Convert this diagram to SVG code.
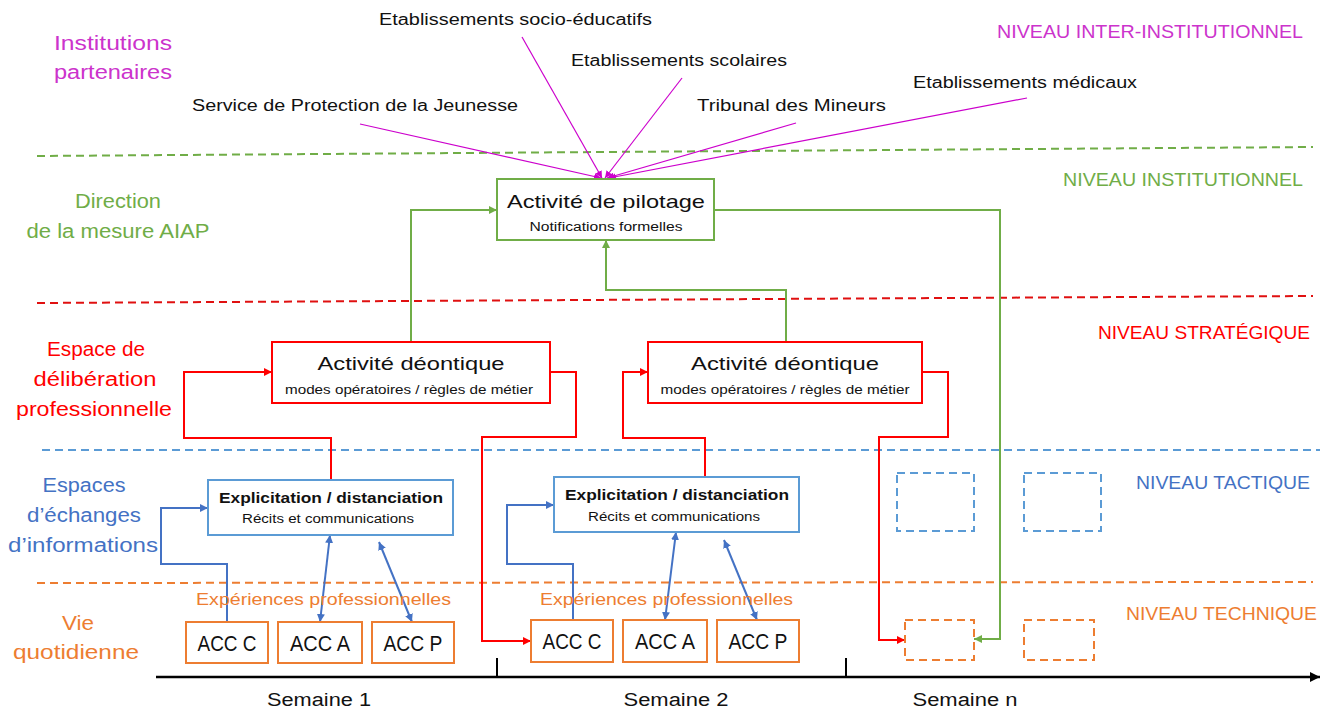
<svg xmlns="http://www.w3.org/2000/svg" width="1333" height="711" viewBox="0 0 1333 711">
<style>
text{font-family:"Liberation Sans",Arial,sans-serif;}
.lbl{font-size:20px;text-anchor:middle;}
.niv{font-size:19px;}
.top{font-size:16px;fill:#111;}
.box{fill:#fff;stroke-width:2;}
.t1{font-size:19px;fill:#111;text-anchor:middle;}
.t2{font-size:12.5px;fill:#111;text-anchor:middle;}
.tb{font-size:15px;font-weight:bold;fill:#111;text-anchor:middle;}
.acc{font-size:22px;fill:#111;text-anchor:middle;}
.exp{font-size:17px;fill:#ED7D31;}
.sem{font-size:18px;fill:#111;text-anchor:middle;}
.dash{fill:none;stroke-width:2;stroke-dasharray:8 5;}
.c{fill:none;stroke-width:2;}
.m{fill:none;stroke:#CC00CC;stroke-width:1.2;}
</style>
<defs>
<marker id="ag" viewBox="0 0 10 10" refX="10" refY="5" markerWidth="8" markerHeight="8" markerUnits="userSpaceOnUse" orient="auto-start-reverse"><path d="M0,0 L10,5 L0,10 z" fill="#70AD47"/></marker>
<marker id="ar" viewBox="0 0 10 10" refX="10" refY="5" markerWidth="8" markerHeight="8" markerUnits="userSpaceOnUse" orient="auto-start-reverse"><path d="M0,0 L10,5 L0,10 z" fill="#FF0000"/></marker>
<marker id="ab" viewBox="0 0 10 10" refX="10" refY="5" markerWidth="8" markerHeight="8" markerUnits="userSpaceOnUse" orient="auto-start-reverse"><path d="M0,0 L10,5 L0,10 z" fill="#4472C4"/></marker>
<marker id="am" viewBox="0 0 10 10" refX="10" refY="5" markerWidth="7" markerHeight="7" markerUnits="userSpaceOnUse" orient="auto-start-reverse"><path d="M0,0 L10,5 L0,10 z" fill="#CC00CC"/></marker>
<marker id="ak" viewBox="0 0 10 10" refX="10" refY="5" markerWidth="10" markerHeight="10" markerUnits="userSpaceOnUse" orient="auto"><path d="M0,0 L10,5 L0,10 z" fill="#000"/></marker>
</defs>
<rect width="1333" height="711" fill="#fff"/>

<g id="level-lines">
<line class="dash" x1="37" y1="156" x2="1313" y2="147" stroke="#70AD47"/>
<line class="dash" x1="37" y1="303" x2="1313" y2="296" stroke="#E01010"/>
<line class="dash" x1="42" y1="450" x2="1320" y2="450" stroke="#5B9BD5"/>
<line class="dash" x1="37" y1="583" x2="1313" y2="582" stroke="#ED7D31"/>
</g>

<g id="left-labels">
<text class="lbl" fill="#CC33CC" x="113" y="50" textLength="118" lengthAdjust="spacingAndGlyphs">Institutions</text>
<text class="lbl" fill="#CC33CC" x="113" y="79" textLength="118" lengthAdjust="spacingAndGlyphs">partenaires</text>
<text class="lbl" fill="#70AD47" x="118" y="208" textLength="86" lengthAdjust="spacingAndGlyphs">Direction</text>
<text class="lbl" fill="#70AD47" x="118" y="238" textLength="183" lengthAdjust="spacingAndGlyphs">de la mesure AIAP</text>
<text class="lbl" fill="#FF0000" x="96" y="356" textLength="98" lengthAdjust="spacingAndGlyphs">Espace de</text>
<text class="lbl" fill="#FF0000" x="95" y="386" textLength="123" lengthAdjust="spacingAndGlyphs">délibération</text>
<text class="lbl" fill="#FF0000" x="94" y="416" textLength="156" lengthAdjust="spacingAndGlyphs">professionnelle</text>
<text class="lbl" fill="#4472C4" x="84" y="492" textLength="83" lengthAdjust="spacingAndGlyphs">Espaces</text>
<text class="lbl" fill="#4472C4" x="84" y="522" textLength="114" lengthAdjust="spacingAndGlyphs">d’échanges</text>
<text class="lbl" fill="#4472C4" x="83" y="552" textLength="150" lengthAdjust="spacingAndGlyphs">d’informations</text>
<text class="lbl" fill="#ED7D31" x="78" y="630" textLength="32" lengthAdjust="spacingAndGlyphs">Vie</text>
<text class="lbl" fill="#ED7D31" x="76" y="659" textLength="126" lengthAdjust="spacingAndGlyphs">quotidienne</text>
</g>

<g id="right-labels">
<text class="niv" fill="#CC33CC" x="997" y="38" textLength="306" lengthAdjust="spacingAndGlyphs">NIVEAU INTER-INSTITUTIONNEL</text>
<text class="niv" fill="#70AD47" x="1063" y="186" textLength="240" lengthAdjust="spacingAndGlyphs">NIVEAU INSTITUTIONNEL</text>
<text class="niv" fill="#FF0000" x="1098" y="339" textLength="212" lengthAdjust="spacingAndGlyphs">NIVEAU STRATÉGIQUE</text>
<text class="niv" fill="#4472C4" x="1136" y="489" textLength="174" lengthAdjust="spacingAndGlyphs">NIVEAU TACTIQUE</text>
<text class="niv" fill="#ED7D31" x="1126" y="620" textLength="191" lengthAdjust="spacingAndGlyphs">NIVEAU TECHNIQUE</text>
</g>

<g id="partner-labels">
<text class="top" x="379" y="25" textLength="273" lengthAdjust="spacingAndGlyphs">Etablissements socio-éducatifs</text>
<text class="top" x="571" y="66" textLength="216" lengthAdjust="spacingAndGlyphs">Etablissements scolaires</text>
<text class="top" x="192" y="111" textLength="326" lengthAdjust="spacingAndGlyphs">Service de Protection de la Jeunesse</text>
<text class="top" x="697" y="111" textLength="189" lengthAdjust="spacingAndGlyphs">Tribunal des Mineurs</text>
<text class="top" x="913" y="88" textLength="224" lengthAdjust="spacingAndGlyphs">Etablissements médicaux</text>
</g>

<g id="connectors">
<!-- magenta -->
<line class="m" x1="360" y1="124" x2="601" y2="178" marker-end="url(#am)"/>
<line class="m" x1="522" y1="37" x2="602" y2="178" marker-end="url(#am)"/>
<line class="m" x1="682" y1="78" x2="605" y2="178" marker-end="url(#am)"/>
<line class="m" x1="796" y1="123" x2="607" y2="178" marker-end="url(#am)"/>
<line class="m" x1="1027" y1="98" x2="609" y2="178" marker-end="url(#am)"/>
<!-- green -->
<polyline class="c" stroke="#70AD47" points="411,342 411,210 497,210" marker-end="url(#ag)"/>
<polyline class="c" stroke="#70AD47" points="786,342 786,290 606,290 606,240" marker-end="url(#ag)"/>
<polyline class="c" stroke="#70AD47" points="714,210 1000,210 1000,639 974,639" marker-end="url(#ag)"/>
<!-- red -->
<polyline class="c" stroke="#FF0000" points="331,480 331,438 184,438 184,372 272,372" marker-end="url(#ar)"/>
<polyline class="c" stroke="#FF0000" points="550,372 576,372 576,437 482,437 482,641 531,641" marker-end="url(#ar)"/>
<polyline class="c" stroke="#FF0000" points="705,477 705,438 623,438 623,372 648,372" marker-end="url(#ar)"/>
<polyline class="c" stroke="#FF0000" points="922,372 948,372 948,437 879,437 879,640 905,640" marker-end="url(#ar)"/>
<!-- blue -->
<polyline class="c" stroke="#4472C4" points="227,622 227,564 161,564 161,508 208,508" marker-end="url(#ab)"/>
<line class="c" stroke="#4472C4" x1="330" y1="535" x2="320" y2="622" marker-start="url(#ab)" marker-end="url(#ab)"/>
<line class="c" stroke="#4472C4" x1="379" y1="542" x2="412" y2="622" marker-start="url(#ab)" marker-end="url(#ab)"/>
<polyline class="c" stroke="#4472C4" points="573,620 573,564 507,564 507,505 554,505" marker-end="url(#ab)"/>
<line class="c" stroke="#4472C4" x1="676" y1="532" x2="665" y2="620" marker-start="url(#ab)" marker-end="url(#ab)"/>
<line class="c" stroke="#4472C4" x1="724" y1="540" x2="757" y2="620" marker-start="url(#ab)" marker-end="url(#ab)"/>
</g>

<g id="pilotage">
<rect class="box" x="497" y="179" width="217" height="61" stroke="#70AD47"/>
<text class="t1" x="606" y="208" textLength="198" lengthAdjust="spacingAndGlyphs">Activité de pilotage</text>
<text class="t2" x="606" y="231" textLength="153" lengthAdjust="spacingAndGlyphs">Notifications formelles</text>
</g>

<g id="deontique-1">
<rect class="box" x="272" y="342" width="278" height="61" stroke="#FF0000"/>
<text class="t1" x="411" y="370" textLength="187" lengthAdjust="spacingAndGlyphs">Activité déontique</text>
<text class="t2" x="409" y="394" textLength="248" lengthAdjust="spacingAndGlyphs">modes opératoires / règles de métier</text>
</g>
<g id="deontique-2">
<rect class="box" x="648" y="342" width="274" height="61" stroke="#FF0000"/>
<text class="t1" x="785" y="370" textLength="188" lengthAdjust="spacingAndGlyphs">Activité déontique</text>
<text class="t2" x="785" y="394" textLength="249" lengthAdjust="spacingAndGlyphs">modes opératoires / règles de métier</text>
</g>

<g id="explicitation-1">
<rect class="box" x="208" y="480" width="245" height="55" stroke="#5B9BD5"/>
<text class="tb" x="331" y="503" textLength="224" lengthAdjust="spacingAndGlyphs">Explicitation / distanciation</text>
<text class="t2" x="328" y="523" textLength="172" lengthAdjust="spacingAndGlyphs">Récits et communications</text>
</g>
<g id="explicitation-2">
<rect class="box" x="554" y="477" width="245" height="55" stroke="#5B9BD5"/>
<text class="tb" x="677" y="500" textLength="224" lengthAdjust="spacingAndGlyphs">Explicitation / distanciation</text>
<text class="t2" x="674" y="521" textLength="172" lengthAdjust="spacingAndGlyphs">Récits et communications</text>
</g>

<g id="tactique-empty">
<rect class="dash" x="897" y="473" width="77" height="58" stroke="#5B9BD5"/>
<rect class="dash" x="1024" y="473" width="77" height="58" stroke="#5B9BD5"/>
</g>

<g id="experiences">
<text class="exp" x="196" y="605" textLength="255" lengthAdjust="spacingAndGlyphs">Expériences  professionnelles</text>
<text class="exp" x="540" y="605" textLength="253" lengthAdjust="spacingAndGlyphs">Expériences  professionnelles</text>
</g>

<g id="acc-week1">
<rect class="box" x="186" y="622" width="82" height="41" stroke="#ED7D31"/>
<text class="acc" x="227" y="651" textLength="59" lengthAdjust="spacingAndGlyphs">ACC C</text>
<rect class="box" x="278" y="622" width="84" height="41" stroke="#ED7D31"/>
<text class="acc" x="320" y="651" textLength="60" lengthAdjust="spacingAndGlyphs">ACC A</text>
<rect class="box" x="372" y="622" width="82" height="41" stroke="#ED7D31"/>
<text class="acc" x="413" y="651" textLength="59" lengthAdjust="spacingAndGlyphs">ACC P</text>
</g>
<g id="acc-week2">
<rect class="box" x="531" y="620" width="82" height="42" stroke="#ED7D31"/>
<text class="acc" x="572" y="649" textLength="59" lengthAdjust="spacingAndGlyphs">ACC C</text>
<rect class="box" x="623" y="620" width="84" height="42" stroke="#ED7D31"/>
<text class="acc" x="665" y="649" textLength="60" lengthAdjust="spacingAndGlyphs">ACC A</text>
<rect class="box" x="717" y="620" width="82" height="42" stroke="#ED7D31"/>
<text class="acc" x="758" y="649" textLength="59" lengthAdjust="spacingAndGlyphs">ACC P</text>
</g>
<g id="technique-empty">
<rect class="dash" x="905" y="620" width="69" height="40" stroke="#ED7D31"/>
<rect class="dash" x="1024" y="620" width="70" height="40" stroke="#ED7D31"/>
</g>

<g id="timeline">
<line x1="156" y1="677" x2="1320" y2="677" stroke="#000" stroke-width="2.5" marker-end="url(#ak)"/>
<line x1="497" y1="658" x2="497" y2="677" stroke="#000" stroke-width="2"/>
<line x1="846" y1="658" x2="846" y2="677" stroke="#000" stroke-width="2"/>
<text class="sem" x="319" y="706" textLength="104" lengthAdjust="spacingAndGlyphs">Semaine 1</text>
<text class="sem" x="676" y="706" textLength="105" lengthAdjust="spacingAndGlyphs">Semaine 2</text>
<text class="sem" x="965" y="706" textLength="105" lengthAdjust="spacingAndGlyphs">Semaine n</text>
</g>
</svg>
